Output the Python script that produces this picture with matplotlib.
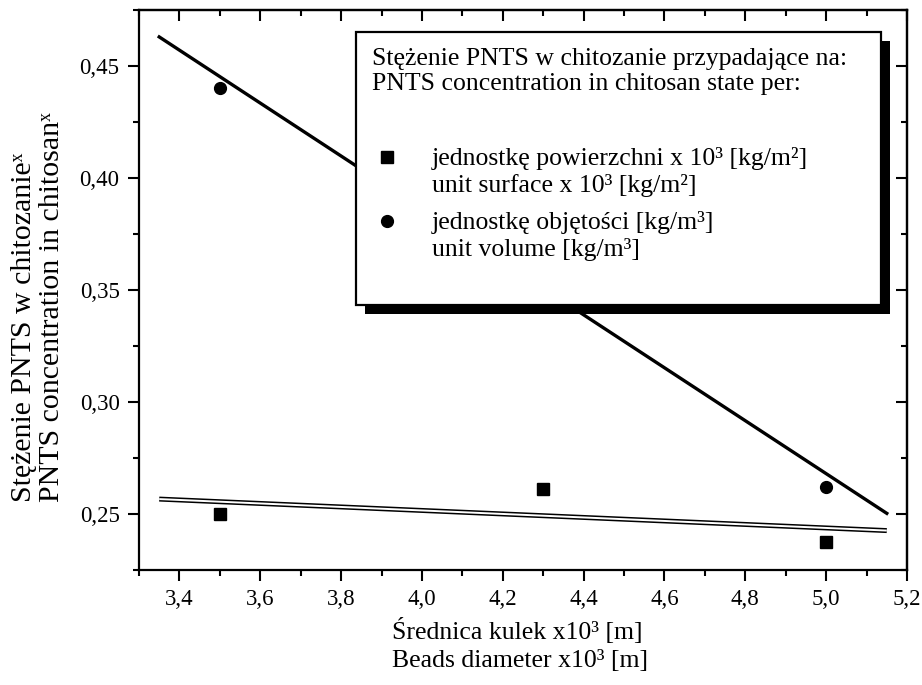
import numpy as np
import matplotlib
matplotlib.use("Agg")
import matplotlib.pyplot as plt
from matplotlib.lines import Line2D
from matplotlib.patches import Rectangle
from matplotlib.ticker import MultipleLocator, FuncFormatter
import matplotlib.patheffects as pe

plt.rcParams['font.family'] = ['Liberation Serif', 'DejaVu Serif']

# Data
diam_surface = [3.5, 4.3, 5.0]
conc_surface = [0.250, 0.261, 0.2375]
diam_volume = [3.5, 4.3, 5.0]
conc_volume = [0.440, 0.362, 0.262]
fit_range = [3.35, 5.15]

legend_title = ["Stężenie PNTS w chitozanie przypadające na:",
                "PNTS concentration in chitosan state per:"]
label_surface = ["jednostkę powierzchni x 10³ [kg/m²]", "unit surface x 10³ [kg/m²]"]
label_volume = ["jednostkę objętości [kg/m³]", "unit volume [kg/m³]"]
xlabel = "Średnica kulek x10³ [m]\nBeads diameter x10³ [m]"
ylabel = "Stężenie PNTS w chitozanieˣ\nPNTS concentration in chitosanˣ"

W, H = 922, 685
fig = plt.figure(figsize=(W / 100, H / 100), dpi=100)
ax = fig.add_axes([139 / W, 1 - 570 / H, (907 - 139) / W, (570 - 10) / H])


def fx(px):
    return px / W


def fy(py):
    return 1 - py / H


xf = np.array(fit_range)
for xs, ys, style in [(diam_surface, conc_surface, 'double'), (diam_volume, conc_volume, 'thick')]:
    k, b = np.polyfit(xs, ys, 1)
    if style == 'double':
        ax.plot(xf, k * xf + b, color='black', lw=3.6, solid_capstyle='butt',
                path_effects=[pe.Stroke(linewidth=3.6, foreground='black'),
                              pe.Stroke(linewidth=1.4, foreground='white')], zorder=2)
    else:
        ax.plot(xf, k * xf + b, color='black', lw=2.4, zorder=2)

ax.plot(diam_surface, conc_surface, 's', color='black', ms=8, zorder=3)
ax.plot(diam_volume, conc_volume, 'o', color='black', ms=8.5, zorder=3)

ax.set_xlim(3.3, 5.2)
ax.set_ylim(0.225, 0.475)
ax.xaxis.set_major_locator(MultipleLocator(0.2))
ax.xaxis.set_minor_locator(MultipleLocator(0.1))
ax.yaxis.set_major_locator(MultipleLocator(0.05))
ax.yaxis.set_minor_locator(MultipleLocator(0.025))
ax.xaxis.set_major_formatter(FuncFormatter(lambda v, p: f"{v:.1f}".replace('.', ',')))
ax.yaxis.set_major_formatter(FuncFormatter(lambda v, p: f"{v:.2f}".replace('.', ',')))
ax.tick_params(which='major', direction='out', length=8, width=1.5, labelsize=16.5, pad=6)
ax.tick_params(which='minor', direction='out', length=4.5, width=1.5)
for s in ax.spines.values():
    s.set_linewidth(1.6)

secx = ax.secondary_xaxis('top')
secx.xaxis.set_major_locator(MultipleLocator(0.2))
secx.xaxis.set_minor_locator(MultipleLocator(0.1))
secx.tick_params(which='major', direction='in', length=8, width=1.5, labeltop=False)
secx.tick_params(which='minor', direction='in', length=4.5, width=1.5)
secy = ax.secondary_yaxis('right')
secy.yaxis.set_major_locator(MultipleLocator(0.05))
secy.yaxis.set_minor_locator(MultipleLocator(0.025))
secy.tick_params(which='major', direction='in', length=8, width=1.5, labelright=False)
secy.tick_params(which='minor', direction='in', length=4.5, width=1.5)
for sa in (secx, secy):
    for s in sa.spines.values():
        s.set_linewidth(1.6)

# axis labels
fig.text(fx(520), fy(645), xlabel, fontsize=18.5, ha='center', va='center',
         multialignment='left', linespacing=1.3)
fig.text(fx(38), fy(307), ylabel, fontsize=21.5, rotation=90, ha='center', va='center',
         multialignment='left', linespacing=1.12)

# legend box with shadow
box_l, box_t, box_r, box_b = 356, 32, 881, 305
sh = 9
fig.add_artist(Rectangle((fx(box_l + sh), fy(box_b + sh)), fx(box_r - box_l), (box_b - box_t) / H,
                         transform=fig.transFigure, facecolor='black', edgecolor='none', zorder=5))
fig.add_artist(Rectangle((fx(box_l), fy(box_b)), fx(box_r - box_l), (box_b - box_t) / H,
                         transform=fig.transFigure, facecolor='white', edgecolor='black',
                         linewidth=1.6, zorder=6))
lfs = 18.5
for line, base in zip(legend_title, [65, 90]):
    fig.text(fx(372), fy(base), line, fontsize=lfs, ha='left', va='baseline', zorder=7)
for lines, bases in [(label_surface, [165, 192]), (label_volume, [229, 256])]:
    for line, base in zip(lines, bases):
        fig.text(fx(432), fy(base), line, fontsize=lfs, ha='left', va='baseline', zorder=7)
fig.add_artist(Line2D([fx(387)], [fy(157)], marker='s', ms=8, color='black', ls='none',
                      transform=fig.transFigure, zorder=7))
fig.add_artist(Line2D([fx(387)], [fy(221)], marker='o', ms=8.5, color='black', ls='none',
                      transform=fig.transFigure, zorder=7))

fig.savefig("out.png", dpi=100)
